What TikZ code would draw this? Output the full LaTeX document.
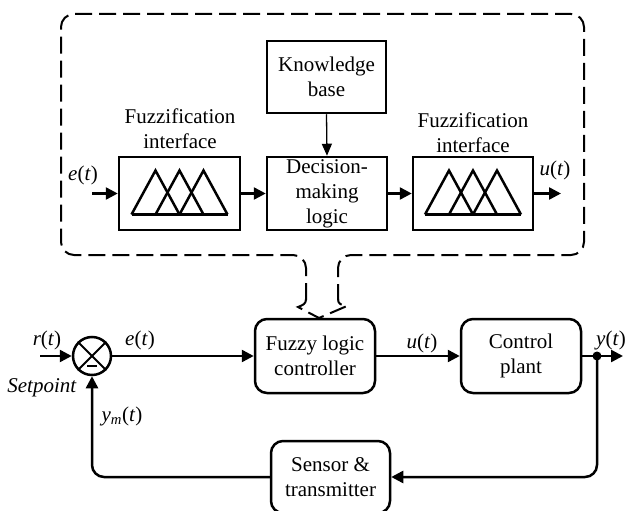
\documentclass[tikz,border=0pt]{standalone}
\usepackage{fontspec}
\setmainfont{Liberation Serif}
\usetikzlibrary{arrows.meta}
\begin{document}
\begin{tikzpicture}[x=1pt,y=-1pt,
  lbl/.style={font=\fontsize{21pt}{25pt}\selectfont, inner sep=0pt, align=center},
  blk/.style={draw, line width=2.5pt, inner sep=0pt, align=center, font=\fontsize{21pt}{25pt}\selectfont},
  rblk/.style={blk, rounded corners=12pt},
  arr/.style={line width=2.5pt, -{Triangle[length=12pt,width=12pt]}},
  thinarr/.style={line width=1.3pt, -{Triangle[length=12pt,width=10pt]}},
  dashbox/.style={line width=2pt, dash pattern=on 17pt off 7pt},
  memb/.style={line width=2.5pt, line join=miter}]
\useasboundingbox (0,0) rectangle (627,511);

% ---------- upper detail ----------
\node[blk, minimum width=119pt, minimum height=72pt] (kb) at (326.5,77) {Knowledge\\base};
\node[blk, minimum width=121pt, minimum height=73pt] (fz1) at (179.5,193.5) {};
\node[blk, minimum width=120pt, minimum height=73pt] (dm) at (327,193.5) {Decision-\\making\\logic};
\node[blk, minimum width=120pt, minimum height=73pt] (fz2) at (473,193.5) {};

\foreach \c in {fz1,fz2}{
  \begin{scope}[shift={(\c.center)}]
    \draw[memb] (-48,21) -- (48,21);
    \draw[memb] (-48,21) -- (-24,-23) -- (0,21);
    \draw[memb] (-24,21) -- (0,-23) -- (24,21);
    \draw[memb] (0,21) -- (24,-23) -- (48,21);
  \end{scope}
}

\node[lbl] (fl1) at (180,129) {Fuzzification\\interface};
\node[lbl] (fl2) at (473,133) {Fuzzification\\interface};
\node[lbl] (et1) at (83,175) {\textit{e}(\textit{t})};
\node[lbl] (ut1) at (555,170) {\textit{u}(\textit{t})};

\coordinate (ein) at (92,193.5);
\coordinate (uout) at (561,193.5);
\draw[arr] (ein) -- (fz1.west);
\draw[arr] (fz1.east) -- (dm.west);
\draw[arr] (dm.east) -- (fz2.west);
\draw[arr] (fz2.east) -- (uout);
\draw[thinarr] (kb.south) -- (dm.north);

% dashed enclosure
\draw[dashbox, rounded corners=13pt] (306,300) -- (306,255) -- (61,255) -- (61,14) -- (584,14) -- (584,255) -- (338,255) -- (338,300);
\draw[dashbox] (306,299) .. controls (306,304) and (303,305) .. (298,307) -- (319,318) -- (347,306) .. controls (341,305) and (338,304) .. (338,299);

% ---------- loop ----------
\node[circle, draw, line width=2.5pt, minimum size=38pt, inner sep=0pt] (sum) at (92,356) {};
\draw[line width=2pt] (sum.north west) -- (sum.south east) (sum.north east) -- (sum.south west);
\draw[line width=1.5pt] (87,366) -- (97,366);
\coordinate (rin) at (40,356);
\draw[arr] (rin) -- (sum.west);
\node[lbl] (rt) at (47,340) {\textit{r}(\textit{t})};
\node[lbl] (sp) at (42,388) {\textit{Setpoint}};

\node[rblk, minimum width=120pt, minimum height=74pt] (flc) at (315,356) {Fuzzy logic\\controller};
\draw[arr] (sum.east) -- (flc.west);
\node[lbl] (et2) at (140,340) {\textit{e}(\textit{t})};

\node[rblk, minimum width=120pt, minimum height=74pt] (pl) at (521,356) {Control\\plant};
\draw[arr] (flc.east) -- (pl.west);
\node[lbl] (ut2) at (422,343) {\textit{u}(\textit{t})};

\coordinate (yo) at (597,356);
\coordinate (yend) at (623,356);
\draw[line width=2.5pt] (pl.east) -- (yo);
\draw[arr] (yo) -- (yend);
\fill (yo) circle (4.5pt);
\node[lbl, anchor=east] (yt) at (626,340) {\textit{y}(\textit{t})};

\node[rblk, minimum width=119pt, minimum height=72pt] (sen) at (330.5,477) {Sensor \&\\transmitter};
\draw[arr, rounded corners=12pt] (yo) |- (sen.east);
\draw[arr, rounded corners=12pt] (sen.west) -| (sum.south);
\node[lbl] (ym) at (122,416) {\textit{y}\textsubscript{\textit{m}}(\textit{t})};
\end{tikzpicture}
\end{document}
